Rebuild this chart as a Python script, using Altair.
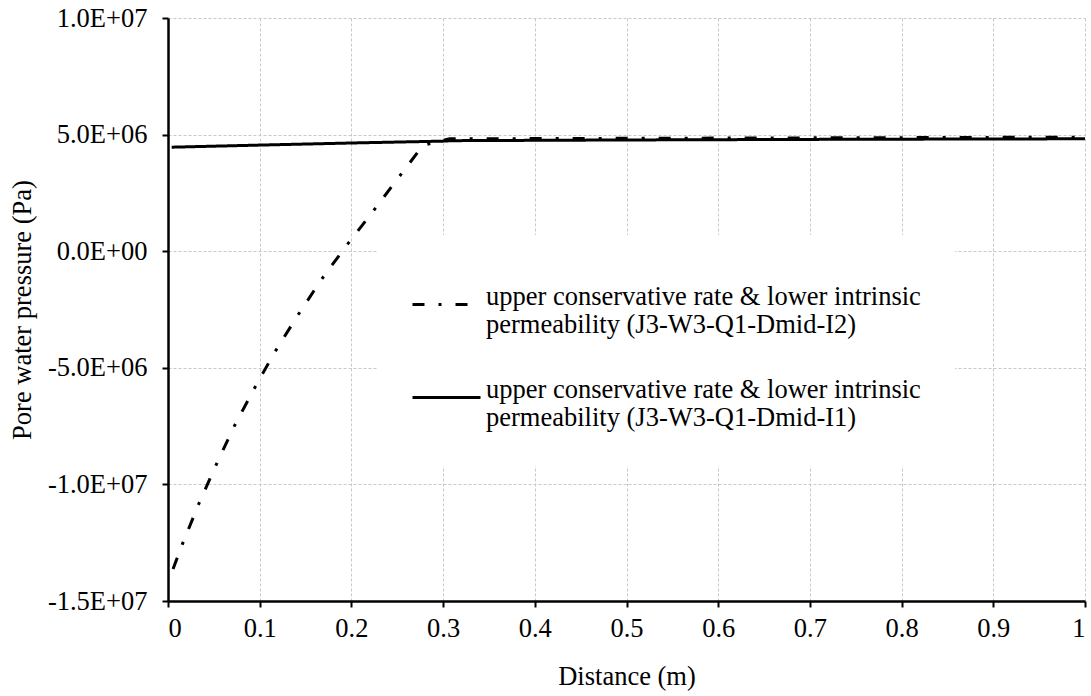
import altair as alt
import pandas as pd

# Dash-dot series (I2)
x_i2 = [0.0055, 0.0157, 0.0335, 0.052, 0.072, 0.0938, 0.1164, 0.1407, 0.1665, 0.1938,
        0.2221, 0.2501, 0.2781, 0.307, 0.35, 0.4, 0.5, 0.6, 0.7, 0.8, 0.9, 1.0]
y_i2 = [-13.63e6, -12.56e6, -10.84e6, -9.20e6, -7.52e6, -5.91e6, -4.33e6, -2.80e6, -1.26e6, 0.20e6,
        1.63e6, 3.09e6, 4.54e6, 4.82e6, 4.82e6, 4.83e6, 4.84e6, 4.85e6, 4.86e6, 4.87e6, 4.88e6, 4.89e6]

# Solid series (I1)
x_i1 = [0.004, 0.1, 0.2, 0.3, 0.31, 0.5, 0.75, 1.0]
y_i1 = [4.46e6, 4.55e6, 4.64e6, 4.72e6, 4.74e6, 4.77e6, 4.80e6, 4.82e6]

name_i2 = "upper conservative rate & lower intrinsic|permeability (J3-W3-Q1-Dmid-I2)"
name_i1 = "upper conservative rate & lower intrinsic|permeability (J3-W3-Q1-Dmid-I1)"

x_ticks = [0, 0.1, 0.2, 0.3, 0.4, 0.5, 0.6, 0.7, 0.8, 0.9, 1.0]
y_ticks = [-1.5e7, -1.0e7, -5.0e6, 0.0, 5.0e6, 1.0e7]

df = pd.concat([
    pd.DataFrame({"x": x_i2, "y": y_i2, "series": name_i2, "order": range(len(x_i2))}),
    pd.DataFrame({"x": x_i1, "y": y_i1, "series": name_i1, "order": range(len(x_i1))}),
])

FONT = "Liberation Serif, Times New Roman, serif"
FS = 26.5

chart = alt.Chart(df).mark_line(color="black", strokeWidth=3, clip=True).encode(
    x=alt.X("x:Q", title="Distance (m)",
            scale=alt.Scale(domain=[0, 1], nice=False, zero=False),
            axis=alt.Axis(values=x_ticks, format="~g", tickSize=6, labelPadding=8,
                          titlePadding=22)),
    y=alt.Y("y:Q", title="Pore water pressure (Pa)",
            scale=alt.Scale(domain=[-1.5e7, 1.0e7], nice=False, zero=False),
            axis=alt.Axis(values=y_ticks, tickSize=6, labelPadding=15, titlePadding=11,
                          labelExpr="replace(replace(replace(format(datum.value, '.1e'), 'e+', 'E+0'), 'e-', 'E-0'), '\u2212', '-')")),
    strokeDash=alt.StrokeDash("series:N",
                              scale=alt.Scale(domain=[name_i2, name_i1],
                                              range=[[12, 14, 3, 14], [1, 0]]),
                              legend=alt.Legend(title=None, orient="none", legendX=209, legendY=217,
                                                labelExpr="split(datum.label, '|')",
                                                labelBaseline="alphabetic",
                                                symbolType="stroke", symbolSize=4624,
                                                symbolStrokeWidth=3, symbolStrokeColor="black",
                                                labelFont=FONT, labelFontSize=FS, labelLimit=0,
                                                labelOffset=4, labelColor="black",
                                                rowPadding=23, padding=34, fillColor="white")),
    order="order:Q",
).properties(
    width=917, height=583,
    autosize=alt.AutoSizeParams(type="none"),
    padding={"left": 168, "top": 18, "right": 6, "bottom": 95},
).configure_view(stroke=None).configure_axis(
    labelFont=FONT, labelFontSize=FS, labelColor="black",
    titleFont=FONT, titleFontSize=FS, titleFontWeight="normal", titleColor="black",
    domainColor="black", domainWidth=2.5, tickColor="black", tickWidth=2,
    gridColor="#c8c8c8", gridDash=[3, 2], gridWidth=1,
)

chart.save("out.html", embed_options={"renderer": "svg", "actions": False})
